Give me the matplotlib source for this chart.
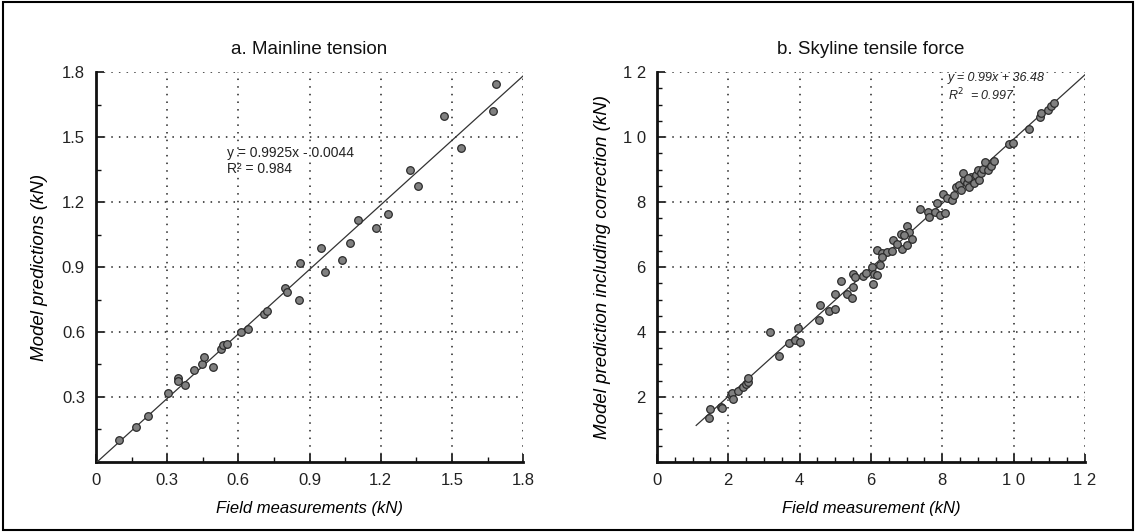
"""
Model vs field measurement scatter plots (mainline tension, skyline tensile force).
Writes out.png.
"""
import matplotlib
matplotlib.use("Agg")
import matplotlib.pyplot as plt
from matplotlib.patches import Rectangle
from matplotlib.ticker import MultipleLocator, FixedLocator

plt.rcParams["font.family"] = ["Liberation Sans", "DejaVu Sans"]

# a. Mainline tension (kN)
main_field = [0.098, 0.169, 0.219, 0.304, 0.345, 0.345, 0.376, 0.415, 0.446, 0.456,
              0.491, 0.525, 0.537, 0.551, 0.610, 0.641, 0.708, 0.720, 0.796, 0.807,
              0.855, 0.858, 0.948, 0.966, 1.037, 1.072, 1.103, 1.181, 1.232, 1.325,
              1.359, 1.467, 1.539, 1.675, 1.684]
main_model = [0.101, 0.160, 0.214, 0.317, 0.389, 0.372, 0.357, 0.425, 0.454, 0.486,
              0.440, 0.523, 0.541, 0.545, 0.598, 0.614, 0.683, 0.697, 0.804, 0.786,
              0.748, 0.918, 0.989, 0.877, 0.934, 1.009, 1.117, 1.081, 1.144, 1.347,
              1.272, 1.597, 1.449, 1.618, 1.746]
main_slope, main_icpt = 0.9925, -0.0044
main_fit_x = [0.0, 1.8]
main_eq = "y = 0.9925x - 0.0044\nR² = 0.984"

# b. Skyline tensile force (kN)
sky_field = [1.46, 1.50, 1.79, 1.83, 2.08, 2.10, 2.14, 2.26, 2.40, 2.49,
             2.55, 2.56, 3.17, 3.41, 3.69, 3.88, 3.96, 4.00, 4.53, 4.56,
             4.83, 4.98, 4.98, 5.16, 5.32, 5.48, 5.50, 5.49, 5.54, 5.78,
             5.86, 6.02, 6.07, 6.08, 6.16, 6.24, 6.18, 6.32, 6.46, 6.60,
             6.32, 6.63, 6.84, 7.00, 7.07, 7.16, 6.86, 7.02, 6.74, 6.93,
             7.38, 7.59, 7.63, 7.80, 7.84, 7.94, 8.08, 8.03, 8.13, 8.27,
             8.34, 8.38, 8.48, 8.52, 8.62, 8.69, 8.76, 8.80, 8.88, 8.95,
             8.99, 9.04, 9.09, 9.13, 9.20, 9.27, 9.37, 9.44, 8.57, 8.72,
             9.88, 9.98, 10.43, 10.73, 10.77, 10.96, 11.04, 11.13]
sky_model = [1.35, 1.63, 1.70, 1.67, 2.05, 2.11, 1.95, 2.17, 2.32, 2.40,
             2.47, 2.57, 3.99, 3.25, 3.67, 3.75, 4.11, 3.69, 4.37, 4.82,
             4.65, 4.70, 5.17, 5.58, 5.17, 5.06, 5.40, 5.78, 5.68, 5.72,
             5.82, 6.01, 5.48, 5.78, 5.75, 6.07, 6.52, 6.42, 6.47, 6.50,
             6.30, 6.83, 7.03, 7.26, 7.09, 6.86, 6.55, 6.68, 6.70, 6.98,
             7.78, 7.70, 7.55, 7.70, 7.96, 7.60, 7.65, 8.25, 8.13, 8.06,
             8.22, 8.47, 8.52, 8.37, 8.68, 8.58, 8.47, 8.78, 8.58, 8.83,
             8.98, 8.68, 8.88, 9.03, 9.24, 8.98, 9.11, 9.27, 8.88, 8.75,
             9.78, 9.83, 10.25, 10.61, 10.75, 10.83, 10.95, 11.04]
sky_slope, sky_icpt = 0.99, 0.03648
sky_fit_x = [1.1, 12.0]
sky_eq = "y = 0.99x + 36.48\nR$^2$  = 0.997"

GRID_KW = dict(color="#222222", linestyle=(0, (1, 4)), linewidth=1.1)
MARK_KW = dict(s=30, facecolor="#808080", edgecolor="#2b2b2b", linewidth=0.9, zorder=4)


def style_axes(ax):
    for side in ("top", "right"):
        ax.spines[side].set_visible(False)
    for side in ("left", "bottom"):
        ax.spines[side].set_linewidth(2.0)
        ax.spines[side].set_color("#111111")
    ax.tick_params(which="major", direction="in", length=6, width=1.2, pad=8,
                   labelsize=12, colors="#111111", labelcolor="#222222")
    ax.tick_params(which="minor", direction="in", length=3.5, width=1.0, colors="#111111")
    ax.grid(True, which="major", **GRID_KW)
    ax.set_axisbelow(True)


fig = plt.figure(figsize=(11.36, 5.32), dpi=100)
fig.patches.append(Rectangle((0.003, 0.004), 0.994, 0.992, transform=fig.transFigure,
                             fill=False, edgecolor="black", linewidth=1.5))

# ---- a. Mainline tension
ax1 = fig.add_axes([0.0845, 0.1316, 0.376, 0.733])
style_axes(ax1)
ax1.set_xlim(0, 1.8)
ax1.set_ylim(0, 1.8)
ax1.xaxis.set_major_locator(FixedLocator([0, 0.3, 0.6, 0.9, 1.2, 1.5, 1.8]))
ax1.set_xticklabels(["0", "0.3", "0.6", "0.9", "1.2", "1.5", "1.8"])
ax1.yaxis.set_major_locator(FixedLocator([0.3, 0.6, 0.9, 1.2, 1.5, 1.8]))
ax1.set_yticklabels(["0.3", "0.6", "0.9", "1.2", "1.5", "1.8"])
ax1.xaxis.set_minor_locator(MultipleLocator(0.15))
ax1.yaxis.set_minor_locator(MultipleLocator(0.15))
ax1.plot(main_fit_x, [main_slope * v + main_icpt for v in main_fit_x],
         color="#333333", linewidth=0.9, zorder=3)
ax1.scatter(main_field, main_model, **MARK_KW)
ax1.text(0.55, 1.46, main_eq, fontsize=10, color="#222222", va="top", ha="left",
         linespacing=1.25)
ax1.set_title("a. Mainline tension", fontsize=13.5, pad=13, color="#111111")
ax1.set_xlabel("Field measurements (kN)", fontsize=12, style="italic", labelpad=9)
ax1.set_ylabel("Model predictions (kN)", fontsize=13.5, style="italic", labelpad=10)

# ---- b. Skyline tensile force
ax2 = fig.add_axes([0.5783, 0.1316, 0.3768, 0.733])
style_axes(ax2)
ax2.set_xlim(0, 12)
ax2.set_ylim(0, 12)
ax2.xaxis.set_major_locator(FixedLocator([0, 2, 4, 6, 8, 10, 12]))
ax2.set_xticklabels(["0", "2", "4", "6", "8", "1 0", "1 2"])
ax2.yaxis.set_major_locator(FixedLocator([2, 4, 6, 8, 10, 12]))
ax2.set_yticklabels(["2", "4", "6", "8", "1 0", "1 2"])
ax2.xaxis.set_minor_locator(MultipleLocator(0.5))
ax2.yaxis.set_minor_locator(MultipleLocator(0.5))
ax2.plot(sky_fit_x, [sky_slope * v + sky_icpt for v in sky_fit_x],
         color="#333333", linewidth=0.9, zorder=3)
ax2.scatter(sky_field, sky_model, **MARK_KW)
ax2.text(8.15, 12.0, sky_eq, fontsize=9, style="italic", color="#222222",
         va="top", ha="left", linespacing=1.2)
ax2.set_title("b. Skyline tensile force", fontsize=13.5, pad=13, color="#111111")
ax2.set_xlabel("Field measurement (kN)", fontsize=12, style="italic", labelpad=9)
ax2.set_ylabel("Model prediction including correction (kN)", fontsize=13.5,
               style="italic", labelpad=8)

fig.savefig("out.png", dpi=100)
plt.close(fig)
